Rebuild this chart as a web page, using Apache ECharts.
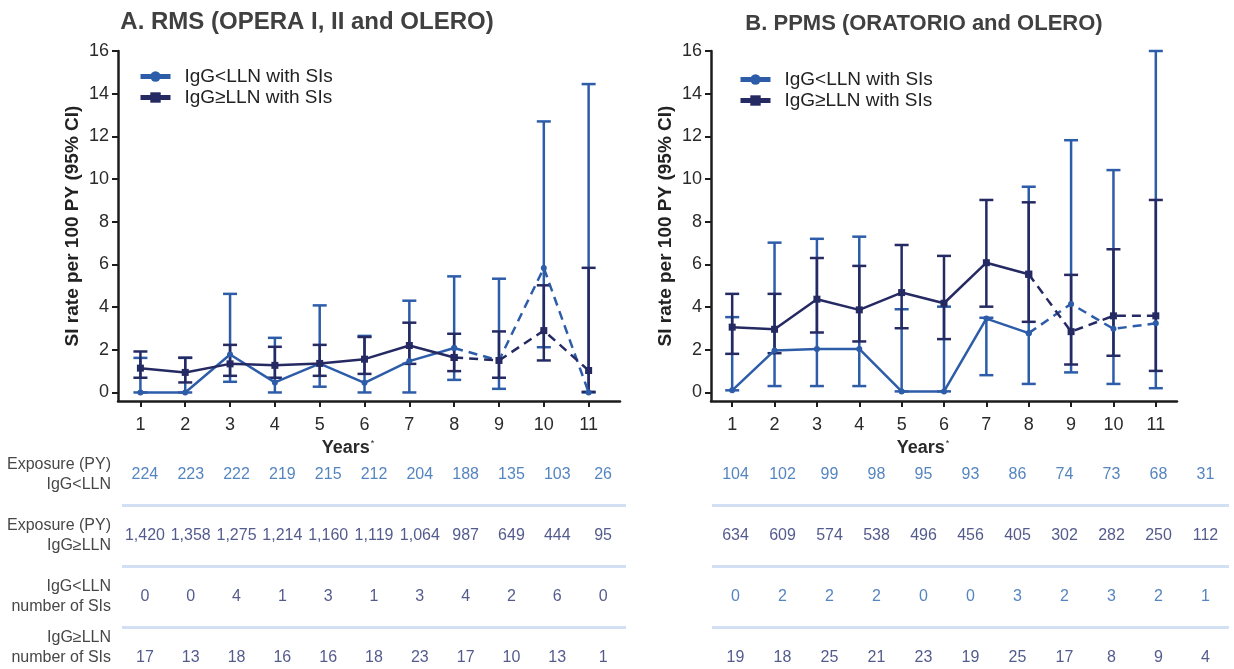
<!DOCTYPE html>
<html>
<head>
<meta charset="utf-8">
<title>SI rate by IgG level</title>
<script src="https://cdn.jsdelivr.net/npm/echarts@6.0.0/dist/echarts.min.js"></script>
<style>
  html, body { margin: 0; padding: 0; background: #fff; }
  #chart { width: 1234px; height: 669px; }
</style>
</head>
<body>
<div id="chart"></div>
<script>
// years on the x axis
const years = [1, 2, 3, 4, 5, 6, 7, 8, 9, 10, 11];
const yTicks = [0, 2, 4, 6, 8, 10, 12, 14, 16];

// A. RMS - SI rate per 100 PY with 95% CI
const rmsLow = [0, 0, 1.78, 0.47, 1.35, 0.45, 1.47, 2.08, 1.5, 5.83, 0];
const rmsLowLo = [0, 0, 0.5, 0, 0.27, 0, 0, 0.59, 0.17, 2.12, 0];
const rmsLowHi = [1.62, 1.62, 4.62, 2.56, 4.08, 2.65, 4.3, 5.44, 5.33, 12.7, 14.45];
const rmsHigh = [1.14, 0.94, 1.34, 1.27, 1.36, 1.56, 2.2, 1.64, 1.5, 2.9, 1.03];
const rmsHighLo = [0.69, 0.47, 0.78, 0.69, 0.78, 0.87, 1.34, 1.0, 0.69, 1.5, 0.03];
const rmsHighHi = [1.92, 1.63, 2.23, 2.14, 2.23, 2.6, 3.27, 2.75, 2.86, 5.02, 5.84];

// B. PPMS
const ppmsLow = [0.1, 1.97, 2.04, 2.04, 0.05, 0.05, 3.46, 2.78, 4.15, 2.98, 3.24];
const ppmsLowLo = [0.1, 0.3, 0.3, 0.3, 0.05, 0.05, 0.81, 0.4, 0.94, 0.4, 0.2];
const ppmsLowHi = [3.53, 7.02, 7.2, 7.3, 3.9, 4.02, 3.5, 9.64, 11.82, 10.42, 16];
const ppmsHigh = [3.06, 2.96, 4.37, 3.87, 4.68, 4.18, 6.08, 5.54, 2.85, 3.59, 3.59];
const ppmsHighLo = [1.81, 1.84, 2.81, 2.39, 3.01, 2.5, 4.02, 3.31, 1.31, 1.72, 1.01];
const ppmsHighHi = [4.62, 4.62, 6.3, 5.93, 6.91, 6.4, 9.02, 8.91, 5.51, 6.71, 9.02];

// tables under the charts
const rmsExpLow = [224, 223, 222, 219, 215, 212, 204, 188, 135, 103, 26];
const rmsExpHigh = [1420, 1358, 1275, 1214, 1160, 1119, 1064, 987, 649, 444, 95];
const rmsSiLow = [0, 0, 4, 1, 3, 1, 3, 4, 2, 6, 0];
const rmsSiHigh = [17, 13, 18, 16, 16, 18, 23, 17, 10, 13, 1];
const ppmsExpLow = [104, 102, 99, 98, 95, 93, 86, 74, 73, 68, 31];
const ppmsExpHigh = [634, 609, 574, 538, 496, 456, 405, 302, 282, 250, 112];
const ppmsSiLow = [0, 2, 2, 2, 0, 0, 3, 2, 3, 2, 1];
const ppmsSiHigh = [19, 18, 25, 21, 23, 19, 25, 17, 8, 9, 4];

const rowLabels = ['Exposure (PY)\nIgG<LLN', 'Exposure (PY)\nIgG≥LLN', 'IgG<LLN\nnumber of SIs', 'IgG≥LLN\nnumber of SIs'];
const rowIndex = [0, 1, 2, 3];
const rowBreaks = [0.5, 1.5, 2.5];
const nameLow = 'IgG<LLN with SIs';
const nameHigh = 'IgG≥LLN with SIs';

const LIGHT = '#2d5ca9';
const DARK = '#252a63';
const TXT_BLUE = '#2a67b0';
const TXT_NAVY = '#283270';
const FONT = '"Liberation Sans", Arial, sans-serif';
const SOLID_END = 8; // lines are dashed after year 8

const chart = echarts.init(document.getElementById('chart'), null, { renderer: 'canvas' });

const errorBars = (idx, lo, hi, color) => ({
    type: 'custom',
    xAxisIndex: idx,
    yAxisIndex: idx,
    data: years.map((y, i) => [y, lo[i], hi[i]]),
    encode: { x: 0, y: [1, 2] },
    renderItem: (params, api) => {
        const top = api.coord([api.value(0), api.value(2)]);
        const bot = api.coord([api.value(0), api.value(1)]);
        const hw = 7;
        const style = { stroke: color, lineWidth: 2.5 };
        return {
            type: 'group',
            children: [
                { type: 'line', shape: { x1: top[0], y1: top[1], x2: bot[0], y2: bot[1] }, style },
                { type: 'line', shape: { x1: top[0] - hw, y1: top[1], x2: top[0] + hw, y2: top[1] }, style },
                { type: 'line', shape: { x1: bot[0] - hw, y1: bot[1], x2: bot[0] + hw, y2: bot[1] }, style }
            ]
        };
    },
    silent: true
});

const lineParts = (idx, name, vals, color, symbol, size) => {
    const base = {
        type: 'line',
        name,
        xAxisIndex: idx,
        yAxisIndex: idx,
        symbol,
        symbolSize: size,
        itemStyle: { color },
        silent: true
    };
    return [
        Object.assign({}, base, {
            data: years.filter(y => y <= SOLID_END).map(y => [y, vals[y - 1]]),
            lineStyle: { color, width: 2.5 }
        }),
        Object.assign({}, base, {
            data: years.filter(y => y >= SOLID_END).map(y => [y, vals[y - 1]]),
            lineStyle: { color, width: 2.5, type: [9, 6] }
        })
    ];
};

const fmt = v => v.toLocaleString('en-US');

const tableRows = (idx, rows, colors) => rows.map((vals, r) => ({
    type: 'scatter',
    xAxisIndex: idx,
    yAxisIndex: idx,
    symbolSize: 1,
    itemStyle: { color: 'rgba(0,0,0,0)' },
    data: vals.map((v, i) => [i, r, v]),
    label: {
        show: true,
        position: 'inside',
        formatter: p => fmt(p.value[2]),
        fontSize: 16,
        color: colors[r],
        fontFamily: FONT
    },
    // light separators between the table rows
    markLine: r === 0 ? {
        silent: true,
        symbol: 'none',
        label: { show: false },
        lineStyle: { color: '#d3dff2', width: 3, type: 'solid' },
        data: rowBreaks.map(b => ({ yAxis: b }))
    } : undefined,
    silent: true
}));

const mainX = (idx, max) => ({
    type: 'value',
    gridIndex: idx,
    min: 0.5,
    max,
    axisLine: { onZero: false, lineStyle: { color: '#1c1c1c', width: 2.5 } },
    axisTick: { customValues: years, length: 6, lineStyle: { color: '#1c1c1c', width: 2 } },
    axisLabel: { customValues: years, fontSize: 18, color: '#2a2a2a', margin: 15, fontFamily: FONT },
    splitLine: { show: false },
    name: '{y|Years}{s|*}',
    nameLocation: 'middle',
    nameGap: 35,
    nameTextStyle: {
        padding: [0, 42, 0, 0],
        rich: {
            y: { fontSize: 18, fontWeight: 'bold', color: '#2a2a2a', fontFamily: FONT },
            s: { fontSize: 9, color: '#2a2a2a', verticalAlign: 'top', padding: [0, 0, 9, 1], fontFamily: FONT }
        }
    }
});

const mainY = idx => ({
    type: 'value',
    gridIndex: idx,
    min: -0.4,
    max: 16,
    axisLine: { show: true, onZero: false, lineStyle: { color: '#1c1c1c', width: 2.5 } },
    axisTick: { show: true, customValues: yTicks, length: 6, lineStyle: { color: '#1c1c1c', width: 2 } },
    axisLabel: { customValues: yTicks, fontSize: 18, color: '#2a2a2a', margin: 9, fontFamily: FONT },
    splitLine: { show: false },
    name: 'SI rate per 100 PY (95% CI)',
    nameLocation: 'middle',
    nameRotate: 90,
    nameGap: 36,
    nameTextStyle: { fontSize: 19, fontWeight: 'bold', color: '#222', fontFamily: FONT }
});

const tableX = idx => ({
    type: 'category',
    gridIndex: idx,
    data: years.map(String),
    show: false
});

// value axis so that rows keep the reference spacing
const tableY = (idx, showLabels) => ({
    type: 'value',
    gridIndex: idx,
    inverse: true,
    min: -0.49,
    max: 3.18,
    axisLine: { show: false },
    axisTick: { show: false },
    splitLine: { show: false },
    axisLabel: {
        show: showLabels,
        customValues: rowIndex,
        fontSize: 16,
        lineHeight: 20,
        color: '#474747',
        align: 'right',
        margin: 11,
        fontFamily: FONT,
        formatter: v => (v === 3 ? rowLabels[v] + '\n{sp|}' : rowLabels[v]),
        rich: { sp: { lineHeight: 21 } }
    }
});

const legendFor = (left, top) => ({
    left,
    top,
    orient: 'vertical',
    selectedMode: false,
    itemWidth: 30,
    itemHeight: 13,
    itemGap: 2,
    data: [nameLow, nameHigh],
    lineStyle: { width: 5 },
    textStyle: { fontSize: 19, color: '#222', fontFamily: FONT, padding: [0, 0, 0, 9] }
});

const option = {
    animation: false,
    backgroundColor: '#fff',
    textStyle: { fontFamily: FONT },
    title: [
        {
            text: 'A. RMS (OPERA I, II and OLERO)',
            left: 302,
            top: 5,
            textAlign: 'center',
            textStyle: { fontSize: 24, fontWeight: 'bold', color: '#404040', fontFamily: FONT }
        },
        {
            text: 'B. PPMS (ORATORIO and OLERO)',
            left: 919,
            top: 8,
            textAlign: 'center',
            textStyle: { fontSize: 22, fontWeight: 'bold', color: '#404040', fontFamily: FONT }
        }
    ],
    legend: [legendFor(133, 62), legendFor(733, 65)],
    grid: [
        { left: 118, width: 502, top: 51, height: 350, outerBoundsMode: 'none' },
        { left: 711, width: 466, top: 51, height: 350, outerBoundsMode: 'none' },
        { left: 122, right: 608, top: 445, bottom: 0, outerBoundsMode: 'none' },
        { left: 712, right: 5, top: 445, bottom: 0, outerBoundsMode: 'none' }
    ],
    xAxis: [mainX(0, 11.7), mainX(1, 11.5), tableX(2), tableX(3)],
    yAxis: [mainY(0), mainY(1), tableY(2, true), tableY(3, false)],
    series: [
        errorBars(0, rmsLowLo, rmsLowHi, LIGHT),
        errorBars(0, rmsHighLo, rmsHighHi, DARK),
        ...lineParts(0, nameLow, rmsLow, LIGHT, 'circle', 6),
        ...lineParts(0, nameHigh, rmsHigh, DARK, 'rect', 7),
        errorBars(1, ppmsLowLo, ppmsLowHi, LIGHT),
        errorBars(1, ppmsHighLo, ppmsHighHi, DARK),
        ...lineParts(1, nameLow, ppmsLow, LIGHT, 'circle', 6),
        ...lineParts(1, nameHigh, ppmsHigh, DARK, 'rect', 7),
        ...tableRows(2, [rmsExpLow, rmsExpHigh, rmsSiLow, rmsSiHigh], [TXT_BLUE, TXT_NAVY, TXT_NAVY, TXT_NAVY]),
        ...tableRows(3, [ppmsExpLow, ppmsExpHigh, ppmsSiLow, ppmsSiHigh], [TXT_BLUE, TXT_NAVY, TXT_BLUE, TXT_NAVY])
    ]
};

chart.setOption(option);
</script>
</body>
</html>
